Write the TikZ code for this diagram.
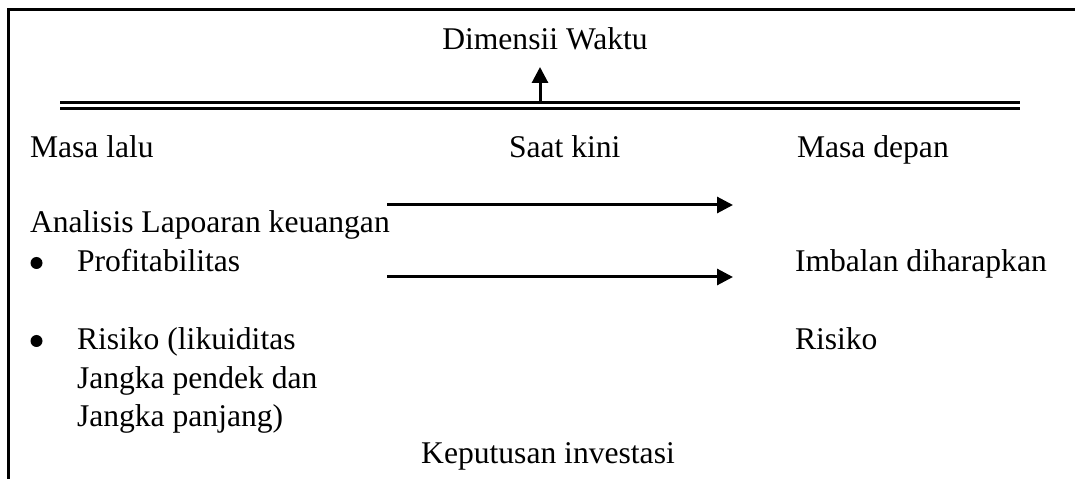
\documentclass[tikz,border=0pt]{standalone}
\usepackage{fontspec}
\setmainfont{Liberation Serif}
\usetikzlibrary{arrows.meta}
\begin{document}
\begin{tikzpicture}[x=1bp,y=-1bp,
  txt/.style={anchor=base west,inner sep=0pt,outer sep=0pt,
    font=\fontsize{31.6bp}{37bp}\selectfont},
  ctxt/.style={txt,anchor=base},
  rule/.style={line width=3bp},
  flow/.style={line width=3bp,-{Triangle[length=16bp,width=16bp]}},
  dot/.style={circle,fill=black,inner sep=0pt,minimum size=12bp}]
\useasboundingbox (0,0) rectangle (1075,479);

% open frame: top and left edge
\draw[rule] (1075,10) -- (8,10) -- (8,479);

% time axis (double rule)
\coordinate (axL1) at (60,103);
\coordinate (axR1) at (1020,103);
\coordinate (axL2) at (60,108.5);
\coordinate (axR2) at (1020,108.5);
\draw[rule] (axL1) -- (axR1);
\draw[rule] (axL2) -- (axR2);

% heading and its arrow
\node[ctxt] (dim) at (545,50) {Dimensii Waktu};
\coordinate (upfoot) at (540,103);
\coordinate (uptop) at (540,67);
\draw[flow] (upfoot) -- (uptop);

% period labels
\node[txt] (past) at (30,158) {Masa lalu};
\node[txt] (now) at (509,158) {Saat kini};
\node[txt] (future) at (797,158) {Masa depan};

% left column
\node[txt] (anal) at (30,233) {Analisis Lapoaran keuangan};
\node[dot] (b1) at (36.5,263) {};
\node[txt] (prof) at (77,272) {Profitabilitas};
\node[dot] (b2) at (36.5,341) {};
\node[txt] (ris1) at (77,350) {Risiko (likuiditas};
\node[txt] (ris2) at (77,388) {Jangka pendek dan};
\node[txt] (ris3) at (77,426) {Jangka panjang)};

% right column
\node[txt] (ret) at (795,272) {Imbalan diharapkan};
\node[txt] (risR) at (795,350) {Risiko};

% decision
\node[ctxt] (dec) at (548,463) {Keputusan investasi};

% flow arrows towards the future
\coordinate (a1s) at (387,205);
\coordinate (a1e) at (733,205);
\coordinate (a2s) at (387,277);
\coordinate (a2e) at (733,277);
\draw[flow] (a1s) -- (a1e);
\draw[flow] (a2s) -- (a2e);
\end{tikzpicture}
\end{document}
